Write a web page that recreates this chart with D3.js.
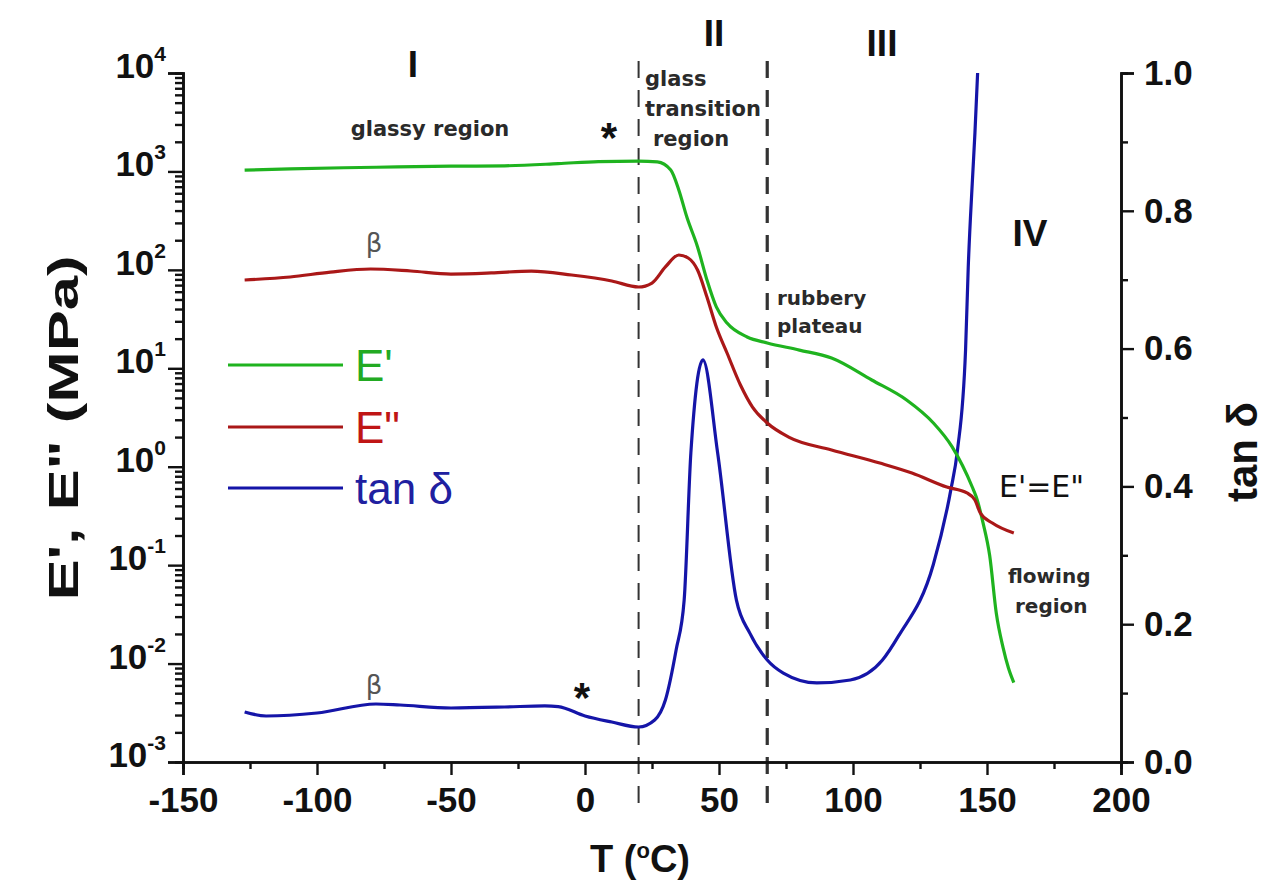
<!DOCTYPE html>
<html><head><meta charset="utf-8">
<script src="https://cdn.jsdelivr.net/npm/d3@7"></script>
<style>html,body{margin:0;padding:0;background:#fff;}svg{display:block;}</style>
</head><body>
<svg id="chart" width="1279" height="881"></svg>
<script>
// ---------------- data ----------------
const tempStorage = [-127,-110,-90,-70,-50,-30,-10,5,20,27,32,35,38,42,45.5,49,53,60.5,68,80,92,107,120,130,137,144.5,146,148.5,151,153.5,156,158,160];
const storageModulus = [1030,1060,1090,1110,1130,1140,1200,1260,1275,1250,1033,648,344,171,79,42,28.8,20.8,18.1,15.3,12.7,7.6,4.76,2.78,1.59,0.622,0.492,0.27,0.125,0.032,0.0145,0.009,0.0064];

const tempLoss = [-127,-110,-95,-80,-65,-50,-35,-20,-5,10,20,25,30,35,38.5,42,45.5,49,53,58,62.5,68,76,92,110,122,135,142.5,145.5,147.5,152,160];
const lossModulus = [78.9,84.6,95,102,97.3,90.7,93,97.3,88.6,77.1,67,73.5,107,141.6,132,99.6,53,26.3,14.3,6.77,4.04,2.78,2.0,1.48,1.09,0.863,0.622,0.541,0.459,0.339,0.268,0.212];

const tempTan = [-127,-119,-100,-78,-69,-50,-30,-15,-10,0,10,20,26,30,34,37,39.5,44,49.5,56.5,61.5,68,74,86.5,99,111,117,130,136.5,139,142,143,144.5,145.5,146.5];
const tanDelta = [0.0726,0.0668,0.0711,0.0842,0.0827,0.0784,0.0798,0.0815,0.0805,0.0668,0.058,0.0508,0.061,0.090,0.1626,0.235,0.4485,0.5835,0.4485,0.235,0.187,0.148,0.129,0.1147,0.119,0.148,0.183,0.287,0.395,0.453,0.598,0.718,0.840,0.913,1.0];

const xTicks = [-150,-100,-50,0,50,100,150,200];
const xMinorTicks = [-125,-75,-25,25,75,125,175];
const leftExponents = [-3,-2,-1,0,1,2,3,4];
const rightTicks = [0.0,0.2,0.4,0.6,0.8,1.0];
const rightMinorTicks = [0.1,0.3,0.5,0.7,0.9];
const regionBoundaries = [20,68];

const seriesNames = ["E'", "E\"", "tan \u03b4"];
const seriesColors = ["#1fb31f", "#aa1818", "#1515a8"];
const legendTextColors = ["#22aa22", "#c01515", "#2020a0"];

// ---------------- layout ----------------
const svg = d3.select("#chart");
const X0 = 183, X1 = 1121, YB = 762, YT = 73;
const x = d3.scaleLinear().domain([-150,200]).range([X0,X1]);
const yL = d3.scaleLog().domain([1e-3,1e4]).range([YB,YT]);
const yR = d3.scaleLinear().domain([0,1]).range([YB,YT]);

const axisFont = "'Liberation Sans', Arial, sans-serif";
const annFont = "'DejaVu Sans', Verdana, sans-serif";

// dashed region boundaries
svg.selectAll("line.region").data(regionBoundaries).join("line")
  .attr("x1", d => x(d)).attr("x2", d => x(d))
  .attr("y1", 61).attr("y2", 805)
  .attr("stroke", "#333").attr("stroke-width", (d,i) => i === 0 ? 2 : 3.2)
  .attr("stroke-dasharray", "17,12");

// curves
const lineL = d3.line().x(d => x(d[0])).y(d => yL(d[1])).curve(d3.curveMonotoneX);
const lineR = d3.line().x(d => x(d[0])).y(d => yR(d[1])).curve(d3.curveMonotoneX);
svg.append("path").datum(d3.zip(tempTan, tanDelta)).attr("d", lineR)
  .attr("fill","none").attr("stroke", seriesColors[2]).attr("stroke-width",3.2);
svg.append("path").datum(d3.zip(tempStorage, storageModulus)).attr("d", lineL)
  .attr("fill","none").attr("stroke", seriesColors[0]).attr("stroke-width",3.2);
svg.append("path").datum(d3.zip(tempLoss, lossModulus)).attr("d", lineL)
  .attr("fill","none").attr("stroke", seriesColors[1]).attr("stroke-width",3.2);

function styleAxis(g) {
  g.selectAll(".domain").attr("stroke","#111").attr("stroke-width",2.6);
  g.selectAll(".tick line").attr("stroke","#111").attr("stroke-width",2.4);
}

// ---------------- axes ----------------
// bottom
const gBminor = svg.append("g").attr("transform", `translate(0,${YB})`)
  .call(d3.axisBottom(x).tickValues(xMinorTicks).tickSize(7).tickFormat(""));
styleAxis(gBminor);
const gB = svg.append("g").attr("transform", `translate(0,${YB})`)
  .call(d3.axisBottom(x).tickValues(xTicks).tickSize(13).tickFormat(d => String(d)).tickPadding(12));
styleAxis(gB);
gB.selectAll(".tick text").attr("font-family", axisFont).attr("font-weight","bold")
  .attr("font-size",35).attr("fill","#111");

// left (log)
const leftMajor = leftExponents.map(e => Math.pow(10,e));
const leftMinor = [];
leftExponents.slice(0,-1).forEach(e => { for (let k=2;k<=9;k++) leftMinor.push(k*Math.pow(10,e)); });
const gLminor = svg.append("g").attr("transform", `translate(${X0},0)`)
  .call(d3.axisLeft(yL).tickValues(leftMinor).tickSize(8).tickFormat(""));
styleAxis(gLminor);
const gL = svg.append("g").attr("transform", `translate(${X0},0)`)
  .call(d3.axisLeft(yL).tickValues(leftMajor).tickSize(15).tickFormat(""));
styleAxis(gL);
const lbl = svg.append("g");
leftExponents.forEach(e => {
  const t = lbl.append("text").attr("x", 166).attr("y", yL(Math.pow(10,e)) + 5)
    .attr("text-anchor","end").attr("font-family", axisFont).attr("font-weight","bold")
    .attr("font-size",35).attr("fill","#111");
  t.append("tspan").text("10");
  t.append("tspan").attr("dy",-17).attr("font-size",21).text(String(e));
});

// right
const gRminor = svg.append("g").attr("transform", `translate(${X1},0)`)
  .call(d3.axisRight(yR).tickValues(rightMinorTicks).tickSize(7).tickFormat(""));
styleAxis(gRminor);
const gR = svg.append("g").attr("transform", `translate(${X1},0)`)
  .call(d3.axisRight(yR).tickValues(rightTicks).tickSize(13).tickFormat(d3.format(".1f")).tickPadding(10));
styleAxis(gR);
gR.selectAll(".tick text").attr("font-family", axisFont).attr("font-weight","bold")
  .attr("font-size",35).attr("fill","#111");

// axis titles
svg.append("text").attr("transform","translate(78,428) rotate(-90)").attr("text-anchor","middle")
  .attr("font-family", axisFont).attr("font-weight","bold").attr("font-size",42).attr("fill","#111")
  .attr("textLength",345).attr("lengthAdjust","spacingAndGlyphs")
  .text("E', E\" (MPa)");
svg.append("text").attr("transform","translate(1257,452) rotate(-90)").attr("text-anchor","middle")
  .attr("font-family", axisFont).attr("font-weight","bold").attr("font-size",42).attr("fill","#111")
  .text("tan \u03b4");
const tt = svg.append("text").attr("x",640).attr("y",872).attr("text-anchor","middle")
  .attr("font-family", axisFont).attr("font-weight","bold").attr("font-size",38).attr("fill","#111");
tt.append("tspan").text("T (");
tt.append("tspan").attr("dy",-14).attr("font-size",22).text("o");
tt.append("tspan").attr("dy",14).text("C)");

// legend
seriesNames.forEach((name,i) => {
  const ly = [365,427,488][i];
  svg.append("line").attr("x1",228).attr("x2",343).attr("y1",ly).attr("y2",ly)
    .attr("stroke", seriesColors[i]).attr("stroke-width",3.2);
  svg.append("text").attr("x",355).attr("y",ly+16).attr("font-family", axisFont)
    .attr("font-size",44).attr("fill", legendTextColors[i]).text(name);
});

// region numerals
const romans = [["I",413,77],["II",714,46],["III",882,56],["IV",1030,246]];
romans.forEach(r => svg.append("text").attr("x",r[1]).attr("y",r[2]).attr("text-anchor","middle")
  .attr("font-family", axisFont).attr("font-weight","bold").attr("font-size",37).attr("fill","#111").text(r[0]));

// annotations
function ann(txt, xx, yy, size, anchor, weight, color) {
  svg.append("text").attr("x",xx).attr("y",yy).attr("text-anchor",anchor||"start")
    .attr("font-family", annFont).attr("font-weight", weight||"bold").attr("font-size",size)
    .attr("fill", color||"#2a2a2a").text(txt);
}
ann("glassy region", 430, 136, 21, "middle");
ann("glass", 645, 86, 21);
ann("transition", 645, 116, 21);
ann("region", 653, 146, 21);
ann("rubbery", 777, 305, 20);
ann("plateau", 777, 333, 20);
ann("E'=E\"", 999, 497, 30, "start", "normal", "#111");
ann("flowing", 1008, 583, 20);
ann("region", 1015, 613, 20);
ann("\u03b2", 374, 252, 26, "middle", "normal", "#555");
ann("\u03b2", 374, 694, 26, "middle", "normal", "#555");
svg.append("text").attr("x",609).attr("y",152).attr("text-anchor","middle").attr("font-family",axisFont)
  .attr("font-weight","bold").attr("font-size",42).attr("fill","#111").text("*");
svg.append("text").attr("x",582).attr("y",712).attr("text-anchor","middle").attr("font-family",axisFont)
  .attr("font-weight","bold").attr("font-size",42).attr("fill","#111").text("*");
</script>
</body></html>
